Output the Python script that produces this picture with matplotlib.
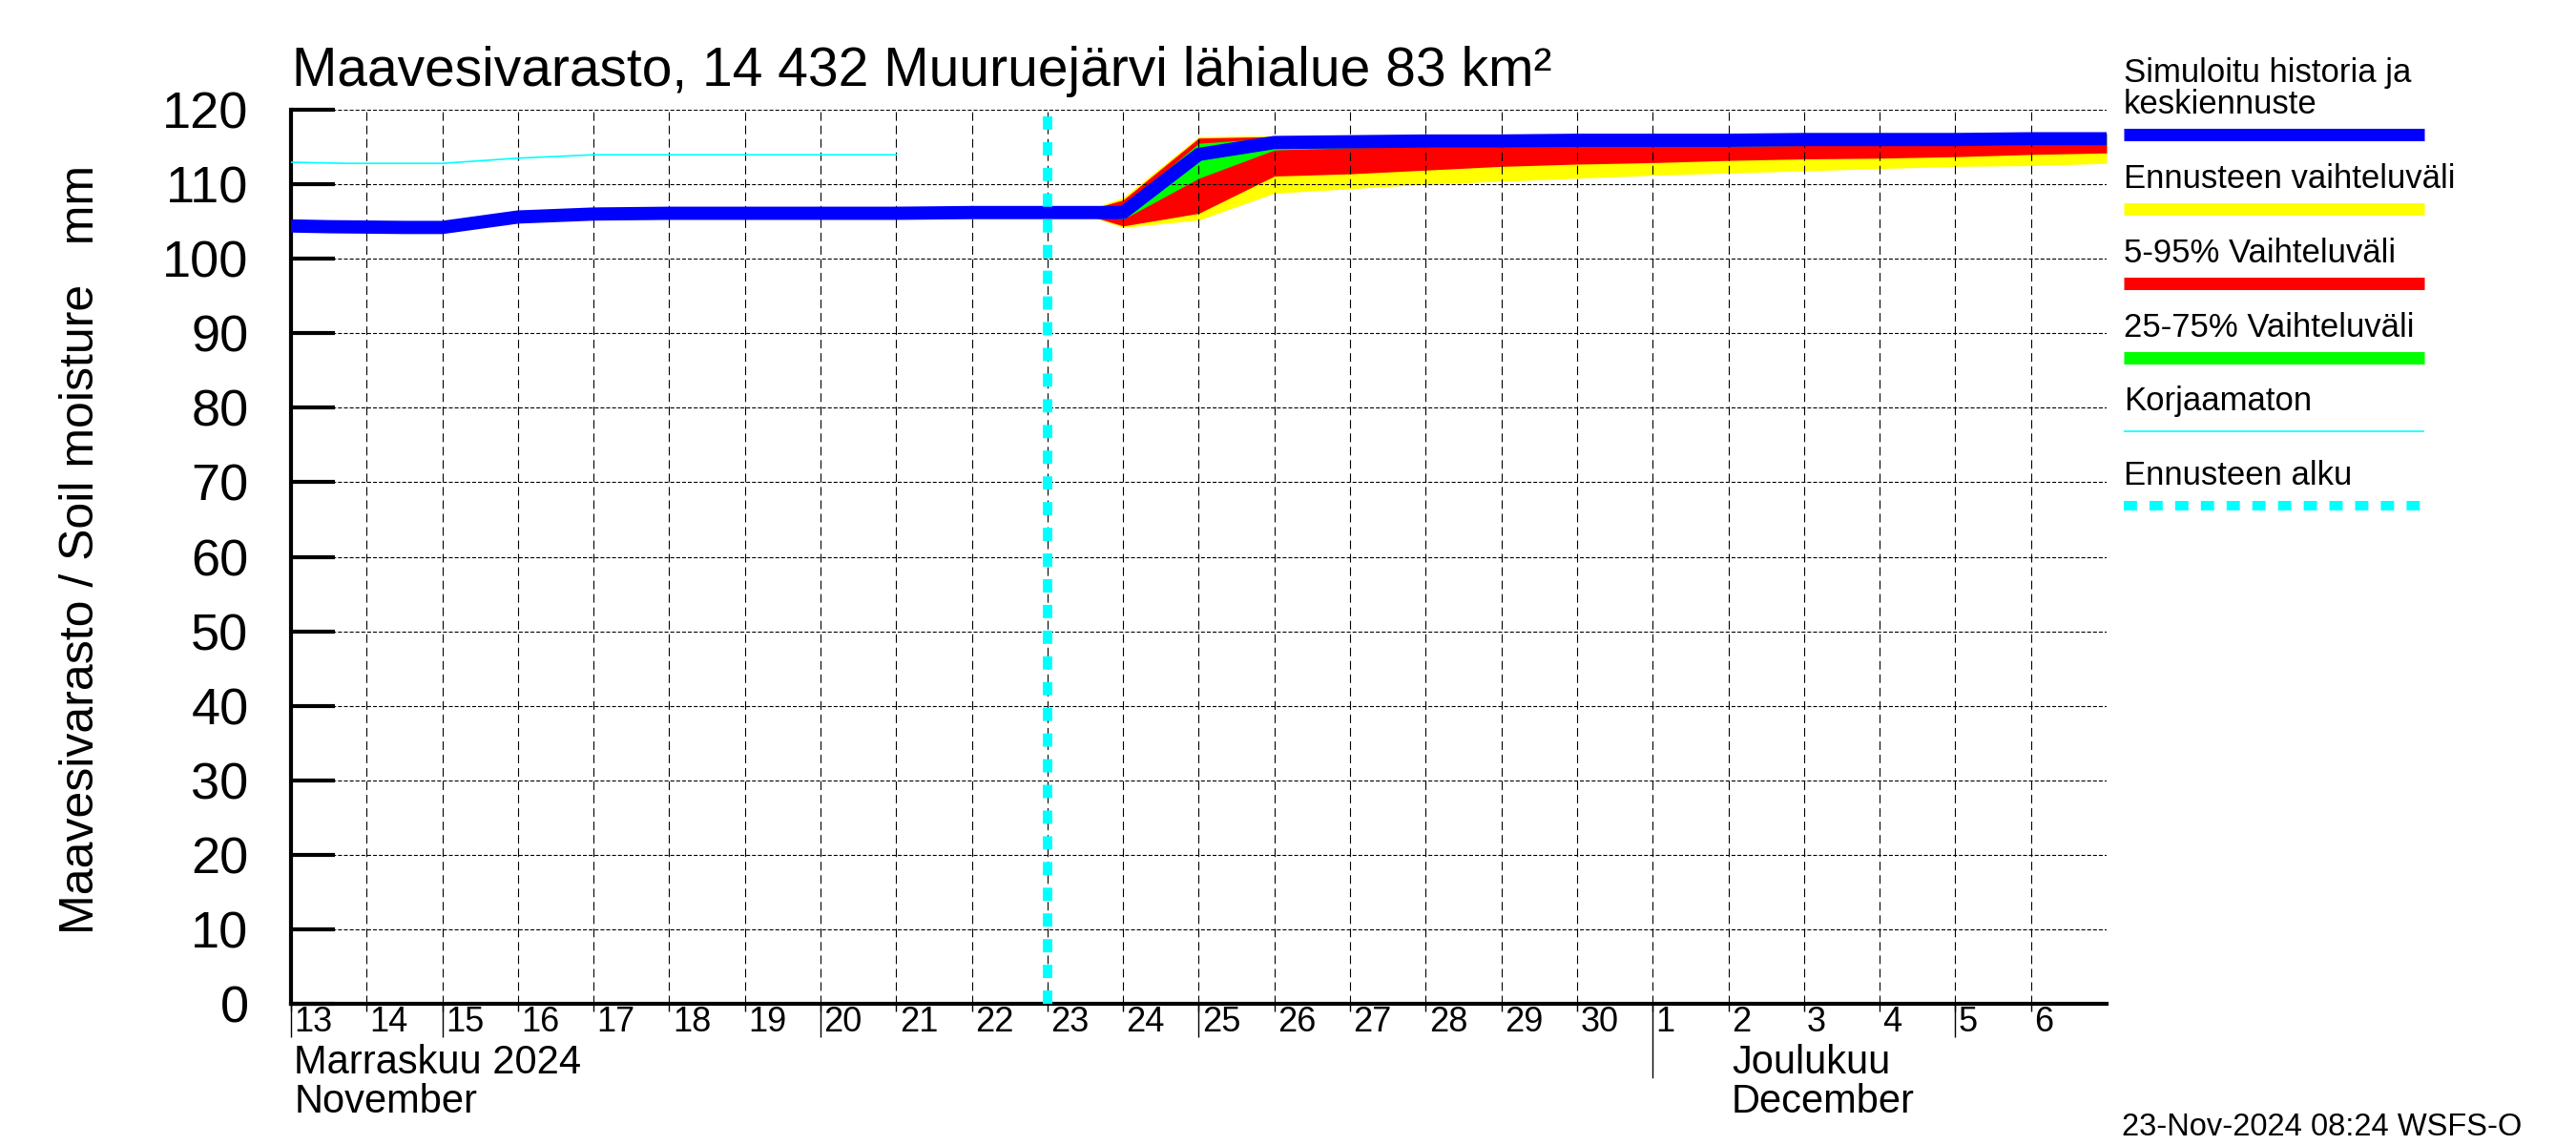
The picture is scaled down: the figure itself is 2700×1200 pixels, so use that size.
import datetime as dt
import matplotlib
matplotlib.use('Agg')
import matplotlib.pyplot as plt
import matplotlib.dates as mdates
import matplotlib.transforms as mtrans
from matplotlib.lines import Line2D

plt.rcParams['font.family'] = ['Liberation Sans', 'DejaVu Sans']
plt.rcParams['lines.scale_dashes'] = False


def d(m, day, h=0):
    return dt.datetime(2024, m, day, h)


# simulated history + mean forecast (blue)
sim_t = [d(11, 13), d(11, 13, 12), d(11, 14, 12), d(11, 15), d(11, 16), d(11, 17),
         d(11, 18), d(11, 19), d(11, 20), d(11, 21), d(11, 22), d(11, 23), d(11, 24),
         d(11, 25), d(11, 26), d(11, 27), d(11, 28), d(11, 29), d(11, 30),
         d(12, 1), d(12, 2), d(12, 3), d(12, 4), d(12, 5), d(12, 6), d(12, 7)]
sim_v = [104.4, 104.3, 104.2, 104.2, 105.6, 106.0,
         106.1, 106.1, 106.1, 106.1, 106.2, 106.2, 106.2,
         114.0, 115.6, 115.7, 115.8, 115.8, 115.9,
         115.9, 115.9, 116.0, 116.0, 116.0, 116.1, 116.1]

# uncorrected (thin cyan)
raw_t = [d(11, 13), d(11, 13, 18), d(11, 15), d(11, 16), d(11, 17), d(11, 21)]
raw_v = [112.95, 112.8, 112.8, 113.5, 113.95, 113.95]

# forecast bands
fc_t = [d(11, 23, 10), d(11, 24), d(11, 25), d(11, 26), d(11, 27), d(11, 28),
        d(11, 29), d(11, 30), d(12, 1), d(12, 2), d(12, 3), d(12, 4), d(12, 5),
        d(12, 6), d(12, 7)]
yel_lo = [106.2, 104.2, 105.2, 108.8, 109.4, 110.0, 110.4, 110.8, 111.2, 111.5,
          111.8, 112.1, 112.4, 112.5, 112.8]
yel_hi = [106.2, 108.2, 116.4, 116.5, 116.5, 116.6, 116.6, 116.7, 116.7, 116.7,
          116.8, 116.8, 116.8, 116.9, 116.9]
red_lo = [106.2, 104.4, 106.1, 111.1, 111.4, 111.9, 112.4, 112.7, 112.9, 113.2,
          113.4, 113.5, 113.7, 114.0, 114.2]
red_hi = [106.2, 107.9, 116.2, 116.4, 116.4, 116.5, 116.5, 116.6, 116.6, 116.6,
          116.7, 116.7, 116.7, 116.8, 116.8]
grn_lo = [106.2, 105.3, 110.8, 114.6, 114.9, 115.0, 115.0, 115.1, 115.1, 115.1,
          115.2, 115.2, 115.2, 115.3, 115.3]
grn_hi = [106.2, 107.0, 115.5, 116.2, 116.3, 116.4, 116.4, 116.5, 116.5, 116.5,
          116.6, 116.6, 116.6, 116.7, 116.7]

fc_start = d(11, 23)

days = [d(11, 13) + dt.timedelta(days=i) for i in range(24)]
day_labels = [str(x.day) for x in days]
long_ticks = [d(11, 13), d(11, 15), d(11, 20), d(11, 25), d(12, 5)]
month_tick = d(12, 1)

legend_items = ['Simuloitu historia ja\nkeskiennuste', 'Ennusteen vaihteluväli',
                '5-95% Vaihteluväli', '25-75% Vaihteluväli', 'Korjaamaton',
                'Ennusteen alku']

W, H = 2700, 1200
fig = plt.figure(figsize=(27, 12), dpi=100)
ax = fig.add_axes([305 / W, 148 / H, 1903 / W, 937 / H])

ax.fill_between(fc_t, yel_lo, yel_hi, color='#ffff00', lw=0, zorder=1)
ax.fill_between(fc_t, red_lo, red_hi, color='#ff0000', lw=0, zorder=1)
ax.fill_between(fc_t, grn_lo, grn_hi, color='#00ff00', lw=0, zorder=1)
ax.plot(raw_t, raw_v, color='#00ffff', lw=1.2, zorder=3)
ax.plot(sim_t, sim_v, color='#0000ff', lw=10, solid_capstyle='butt', zorder=3)
ax.axvline(fc_start, color='#00ffff', lw=7.2, linestyle=(0, (10, 9.4)), zorder=4)

ax.set_xlim(d(11, 13), d(12, 7))
ax.set_ylim(0, 120)
ax.set_axisbelow('line')

for s in ['top', 'right']:
    ax.spines[s].set_visible(False)
for s in ['left', 'bottom']:
    ax.spines[s].set_linewidth(3)

ax.set_yticks(range(0, 121, 10))
ax.tick_params(axis='y', direction='in', length=33, width=3, labelsize=39, pad=32)
ax.yaxis.grid(True, color='black', lw=0.8, linestyle=(0, (2.9, 1.5)))

ax.set_xticks(days)
ax.set_xticklabels([])
ax.set_xticks(long_ticks, minor=True)
ax.xaxis.remove_overlapping_locs = False
ax.tick_params(axis='x', which='major', direction='out', length=6, width=1)
ax.tick_params(axis='x', which='minor', direction='out', length=25, width=1)
ax.xaxis.grid(True, which='major', color='black', lw=0.8, linestyle=(0, (6.5, 3.6)))

tr = mtrans.blended_transform_factory(ax.transData, fig.transFigure)
ax.plot([month_tick, month_tick], [1 - 1052 / H, 1 - 1129 / H], color='black', lw=1,
        transform=tr, clip_on=False)

# day numbers just right of each midnight tick
for x, lab in zip(days, day_labels):
    ax.text(x + dt.timedelta(hours=1), 1 - 1081 / H, lab, transform=tr,
            fontsize=26, ha='left', va='baseline')

ax.text(d(11, 13, 1), 1 - 1125 / H, 'Marraskuu 2024', transform=tr, fontsize=30,
        va='baseline')
ax.text(d(11, 13, 1), 1 - 1166 / H, 'November', transform=tr, fontsize=30,
        va='baseline')
ax.text(d(12, 2, 1), 1 - 1125 / H, 'Joulukuu', transform=tr, fontsize=30,
        va='baseline')
ax.text(d(12, 2, 1), 1 - 1166 / H, 'December', transform=tr, fontsize=30,
        va='baseline')

fig.text(306 / W, 1 - 90 / H, 'Maavesivarasto, 14 432 Muuruejärvi lähialue 83 km²',
         fontsize=41, va='baseline')
fig.text(85 / W, ax.get_position().y0 + ax.get_position().height / 2 + 0.006,
         'Maavesivarasto / Soil moisture   mm', rotation=90, fontsize=36,
         ha='center', va='center')
fig.text(2224 / W, 1 - 1190 / H, '23-Nov-2024 08:24 WSFS-O', fontsize=23.5,
         va='baseline')

# legend
lx0, lx1 = 2226 / W, 2541 / W
text_base = [119, 197, 275, 353, 430, 508]
line_y = [141, 219.5, 297, 375, 452, 530]
styles = [dict(color='#0000ff', lw=9.4),
          dict(color='#ffff00', lw=9.4),
          dict(color='#ff0000', lw=9.4),
          dict(color='#00ff00', lw=9.4),
          dict(color='#00ffff', lw=1.2),
          dict(color='#00ffff', lw=7.2, linestyle=(0, (10, 9.4)))]
for lab, tb, ly, st in zip(legend_items, text_base, line_y, styles):
    fig.text(lx0, 1 - tb / H, lab, fontsize=25, va='baseline', linespacing=1.0)
    fig.add_artist(Line2D([lx0, lx1], [1 - ly / H, 1 - ly / H],
                          transform=fig.transFigure, solid_capstyle='butt', **st))

fig.savefig('out.png', dpi=100)
